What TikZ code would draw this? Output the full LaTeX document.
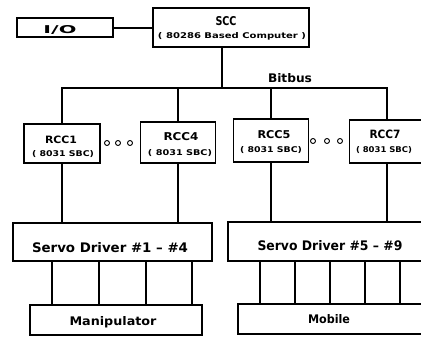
\documentclass[tikz,border=0pt]{standalone}
\usepackage{fontspec}
\setmainfont{DejaVu Sans}
\usepackage{graphicx}
\newcommand\sizedtext[3]{\resizebox{#1pt}{#2pt}{\bfseries #3}}
\tikzset{
  box/.style={draw, line width=1.1pt, inner sep=0pt},
  lbl/.style={inner sep=0pt, anchor=base},
  wire/.style={line width=1.1pt},
  dot/.style={draw, circle, line width=0.9pt, minimum size=5pt, inner sep=0pt}
}
\begin{document}
\begin{tikzpicture}[x=1pt,y=-1pt]
\useasboundingbox (0,0) rectangle (421,338);
\clip (0,0) rectangle (421,338);
% boxes
\node[box, minimum width=96, minimum height=19] (io) at (65,27.5) {};
\node[box, minimum width=156, minimum height=39] (scc) at (231,27.5) {};
\node[box, minimum width=76, minimum height=39] (rcc1) at (62,143.5) {};
\node[box, minimum width=75, minimum height=41] (rcc4) at (178,142.5) {};
\node[box, minimum width=75, minimum height=43] (rcc5) at (271,140.5) {};
\node[box, minimum width=75, minimum height=43] (rcc7) at (387,141.5) {};
\node[box, minimum width=199, minimum height=38] (sdl) at (112.5,242) {};
\node[box, minimum width=217, minimum height=39] (sdr) at (336.5,241.5) {};
\node[box, minimum width=172, minimum height=30] (man) at (116,320) {};
\node[box, minimum width=207, minimum height=30] (mob) at (341.5,319) {};
% texts
\node[lbl] (tio) at (60,33) {\sizedtext{33}{8}{I/O}};
\node[lbl] (tscc) at (226,25) {\sizedtext{21}{9}{SCC}};
\node[lbl] (tsccs) at (232,38.5) {\sizedtext{148}{6}{( 80286 Based Computer )}};
\node[lbl] (tbus) at (290,82) {\sizedtext{44}{9}{Bitbus}};
\node[lbl] (t1) at (61,143) {\sizedtext{32}{7.5}{RCC1}};
\node[lbl] (t1s) at (63,156) {\sizedtext{62}{6}{( 8031 SBC)}};
\node[lbl] (t4) at (181,140) {\sizedtext{35}{8}{RCC4}};
\node[lbl] (t4s) at (180,155) {\sizedtext{64}{6}{( 8031 SBC)}};
\node[lbl] (t5) at (274,138) {\sizedtext{33}{8}{RCC5}};
\node[lbl] (t5s) at (271,152) {\sizedtext{62}{6}{( 8031 SBC)}};
\node[lbl] (t7) at (385,138) {\sizedtext{31}{8.5}{RCC7}};
\node[lbl] (t7s) at (384,152) {\sizedtext{56}{6}{( 8031 SBC)}};
\node[lbl] (tsdl) at (110,252) {\sizedtext{156}{10}{Servo Driver \#1 -- \#4}};
\node[lbl] (tsdr) at (330,250) {\sizedtext{145}{10}{Servo Driver \#5 -- \#9}};
\node[lbl] (tman) at (113,325) {\sizedtext{87}{9}{Manipulator}};
\node[lbl] (tmob) at (329,323) {\sizedtext{42}{9}{Mobile}};
% dots
\node[dot] (d1) at (107,143) {};
\node[dot] (d2) at (118,143) {};
\node[dot] (d3) at (130,143) {};
\node[dot] (d4) at (313,141) {};
\node[dot] (d5) at (327,141) {};
\node[dot] (d6) at (340,141) {};
% connectors
\coordinate (bus) at (0,88);
\coordinate (sccdrop) at (222,88);
\draw[wire] (io.east |- 0,28) -- (scc.west |- 0,28);
\draw[wire] (sccdrop |- scc.south) -- (sccdrop);
\draw[wire] (rcc1.north) |- (rcc7.north |- bus) -- (rcc7.north);
\draw[wire] (rcc4.north) -- (rcc4.north |- bus);
\draw[wire] (rcc5.north) -- (rcc5.north |- bus);
\draw[wire] (rcc1.south) -- (rcc1.south |- sdl.north);
\draw[wire] (rcc4.south) -- (rcc4.south |- sdl.north);
\draw[wire] (rcc5.south) -- (rcc5.south |- sdr.north);
\draw[wire] (rcc7.south) -- (rcc7.south |- sdr.north);
\foreach \x [count=\i] in {52,99,146,192} {
  \coordinate (m\i) at (\x,0);
  \draw[wire] (m\i |- sdl.south) -- (m\i |- man.north);
}
\foreach \x [count=\i] in {260,295,330,365,400} {
  \coordinate (b\i) at (\x,0);
  \draw[wire] (b\i |- sdr.south) -- (b\i |- mob.north);
}
\end{tikzpicture}
\end{document}
